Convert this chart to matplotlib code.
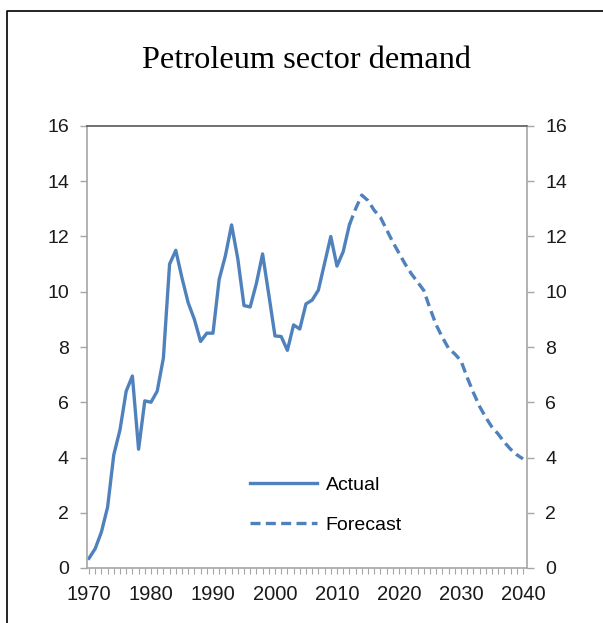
import numpy as np
import matplotlib
matplotlib.use("Agg")
import matplotlib.pyplot as plt
from matplotlib.lines import Line2D

# data
actual_years = list(range(1970, 2013))
actual = [0.35, 0.7, 1.3, 2.2, 4.1, 5.0, 6.4, 6.95, 4.3, 6.05,
          6.0, 6.4, 7.6, 11.0, 11.5, 10.5, 9.6, 9.0, 8.2, 8.5,
          8.5, 10.45, 11.3, 12.42, 11.2, 9.5, 9.45, 10.3, 11.37, 9.9,
          8.4, 8.38, 7.88, 8.8, 8.65, 9.56, 9.7, 10.06, 11.03, 12.0,
          10.93, 11.45, 12.42]

forecast_years = list(range(2012, 2041))
forecast = [12.42, 13.0, 13.5, 13.3, 12.95, 12.7, 12.25, 11.8, 11.4, 11.0,
            10.65, 10.35, 10.05, 9.4, 8.8, 8.35, 7.95, 7.75, 7.5, 6.9,
            6.35, 5.85, 5.45, 5.1, 4.85, 4.55, 4.3, 4.1, 3.95]

decade_ticks = [1970, 1980, 1990, 2000, 2010, 2020, 2030, 2040]
y_ticks = [0, 2, 4, 6, 8, 10, 12, 14, 16]

blue = "#4F81BD"
axis_grey = "#A6A6A6"

plt.rcParams["font.family"] = ["Liberation Sans", "DejaVu Sans"]

fig = plt.figure(figsize=(6.03, 6.23), dpi=100)
ax = fig.add_axes([87 / 603, 55 / 623, 440 / 603, 442 / 623])

ax.plot(actual_years, actual, color=blue, lw=2.4, label="Actual",
        solid_joinstyle="round")
ax.plot(forecast_years, forecast, color=blue, lw=2.4, label="Forecast",
        dashes=(3, 1.6))

ax.set_xlim(1969.68, 2040.65)
ax.set_ylim(0, 16)
ax.set_yticks(y_ticks)
ax.set_xticks(decade_ticks)
ax.set_xticks(range(1970, 2041), minor=True)

for side in ["left", "right", "bottom"]:
    ax.spines[side].set_color(axis_grey)
    ax.spines[side].set_linewidth(1.2)
ax.spines["top"].set_color("#595959")
ax.spines["top"].set_linewidth(1.2)

ax.tick_params(axis="y", direction="out", length=5, width=1, color=axis_grey,
               labelsize=14, pad=8, labelcolor="#1a1a1a")
ax.tick_params(axis="x", which="both", direction="out", length=4, width=0.8,
               color=axis_grey, labelsize=14.5, pad=8, labelcolor="#1a1a1a")

ax2 = ax.twinx()
ax2.set_ylim(0, 16)
ax2.set_yticks(y_ticks)
for side in ["left", "right", "bottom", "top"]:
    ax2.spines[side].set_visible(False)
ax2.tick_params(axis="y", direction="out", length=5, width=1, color=axis_grey,
                labelsize=14, pad=8, labelcolor="#1a1a1a")

ax.legend(loc="center", bbox_to_anchor=(0.543, 0.1425), frameon=False,
          fontsize=14, handlelength=3.45, handletextpad=0.45, labelspacing=1.15)

fig.text(307 / 603, 1 - 68 / 623, "Petroleum sector demand",
         ha="center", va="baseline", fontsize=23.3,
         family=["Liberation Serif", "DejaVu Serif"])

# outer frame (only left and top edges visible in the crop)
fig.add_artist(Line2D([7 / 603, 7 / 603, 1], [0, 1 - 11 / 623, 1 - 11 / 623],
                      transform=fig.transFigure, color="black", lw=1.2))

fig.savefig("out.png", dpi=100)
